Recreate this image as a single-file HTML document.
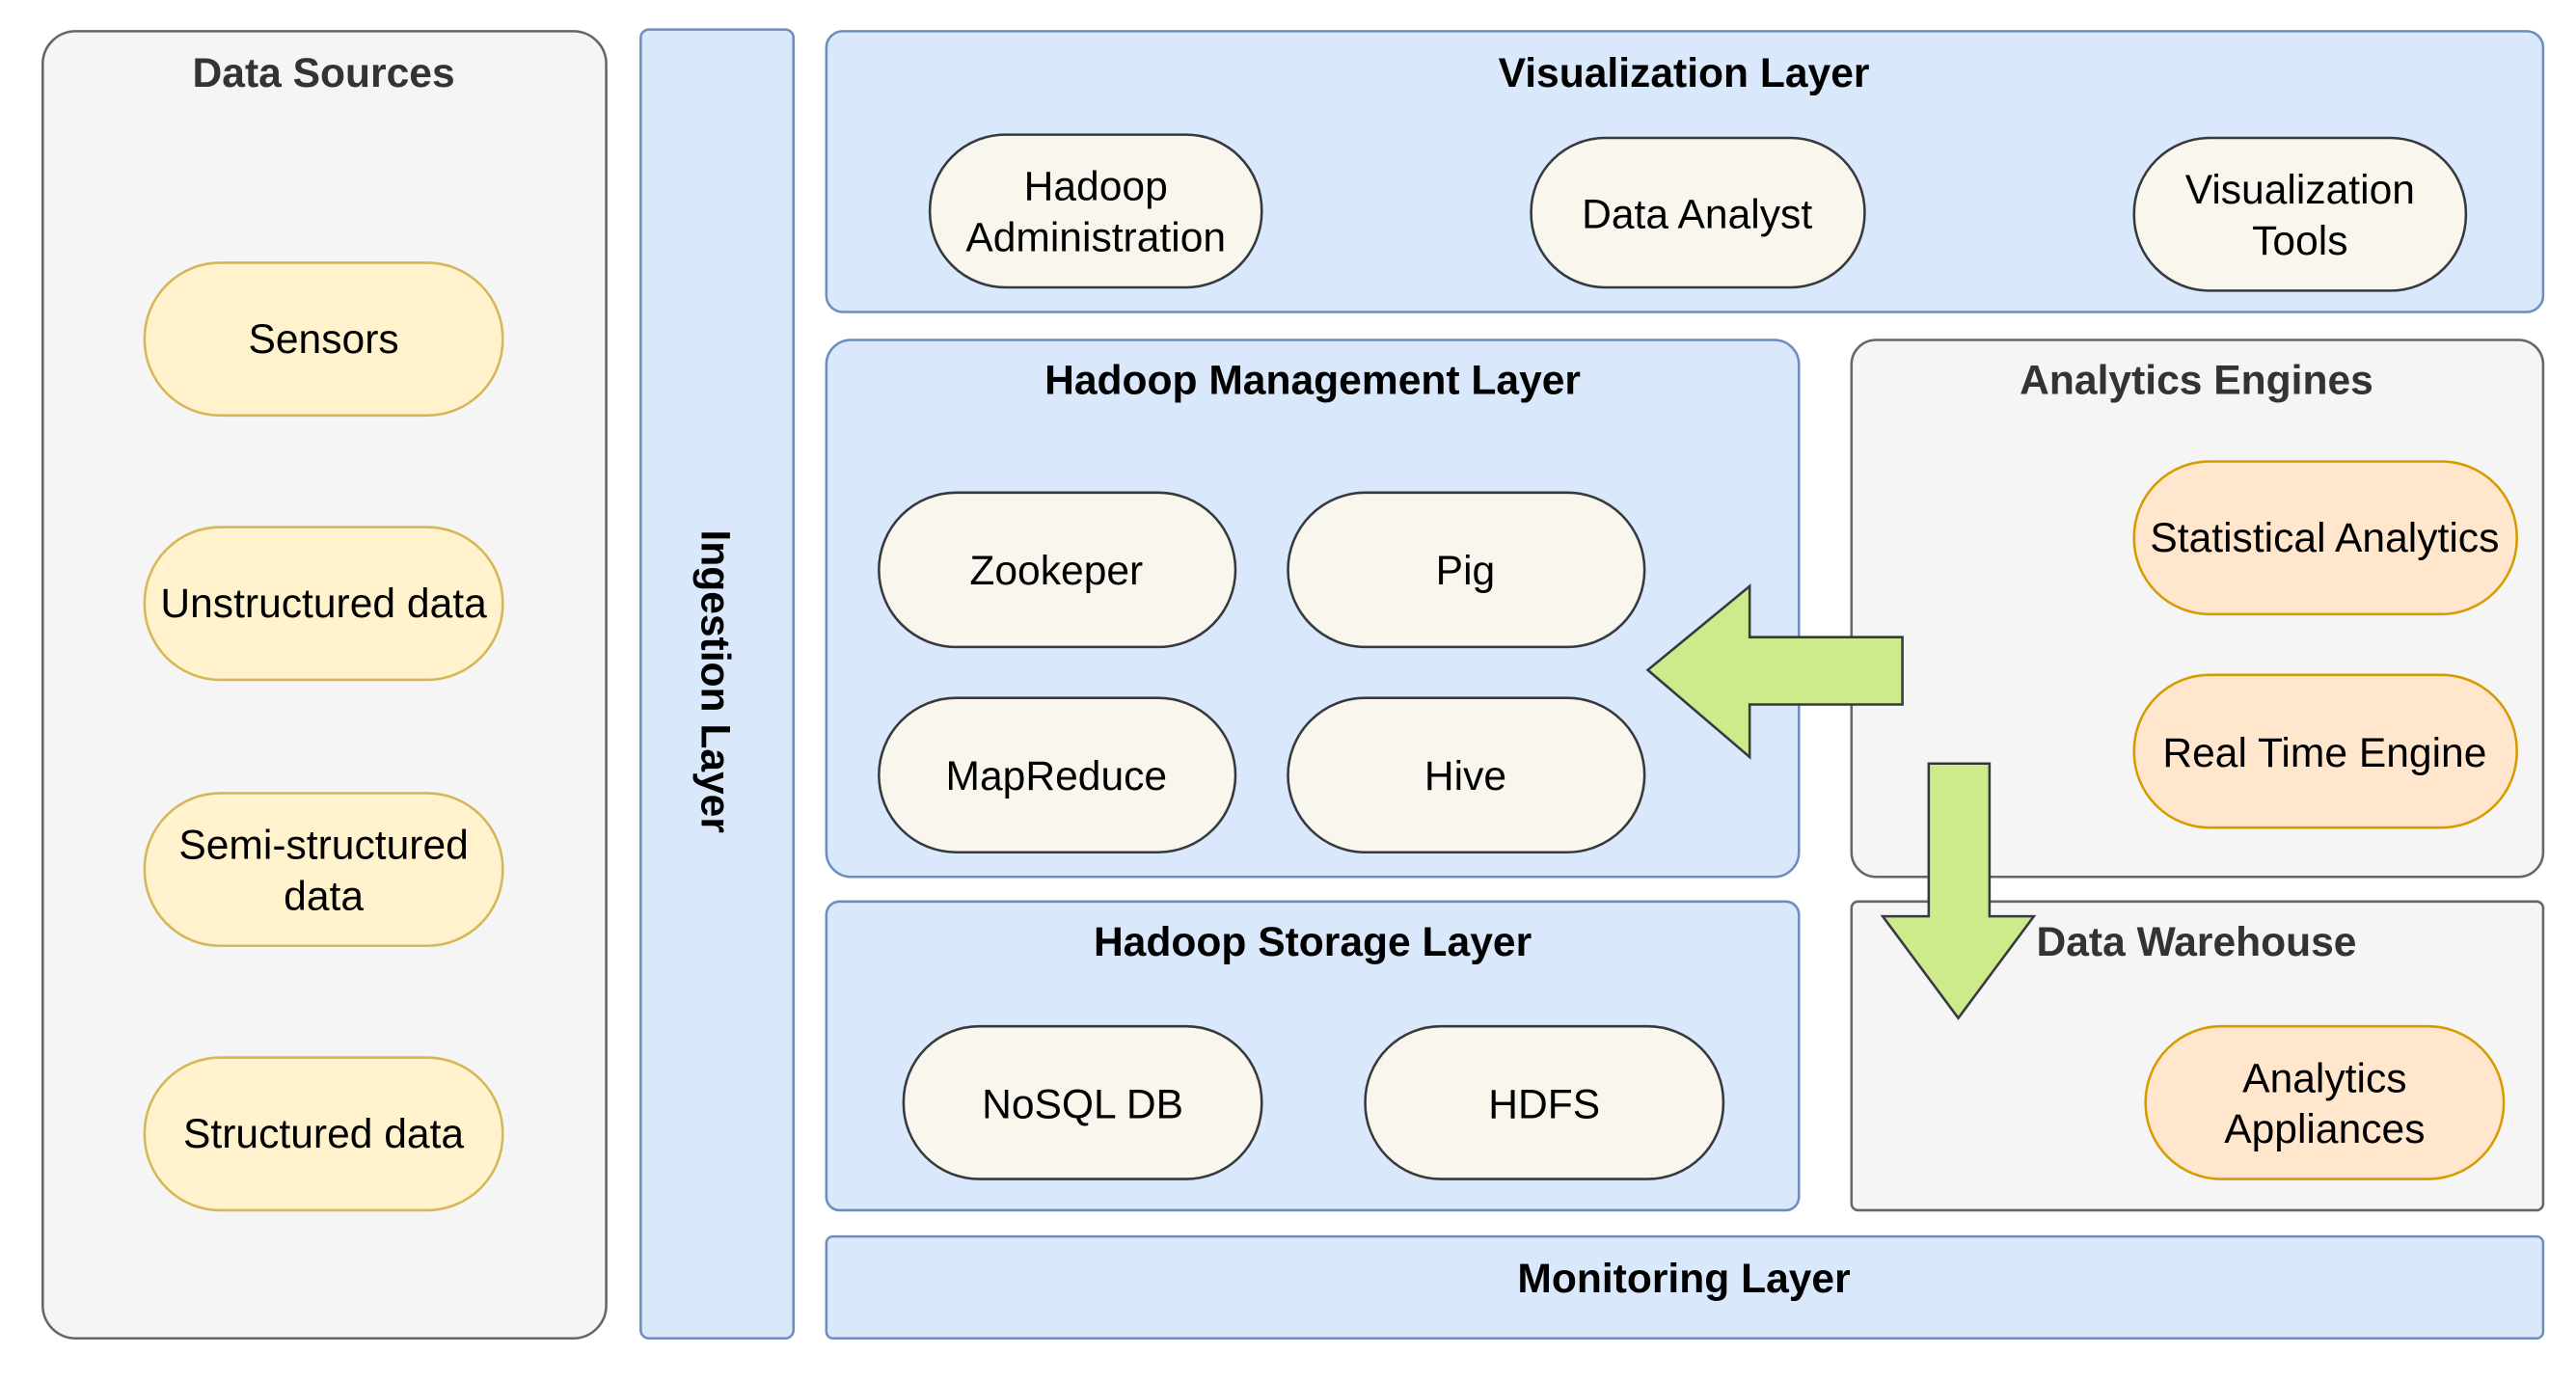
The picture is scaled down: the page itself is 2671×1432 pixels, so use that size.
<!DOCTYPE html>
<html><head><meta charset="utf-8"><style>
html,body{margin:0;padding:0;background:#fff;}
svg{display:block;}
text{font-family:"Liberation Sans",sans-serif;}
.t{font-size:25px;font-weight:bold;text-anchor:middle;}
.p{font-size:25px;text-anchor:middle;fill:#000;}
.blue{fill:#dae8fc;stroke:#6c8ebf;stroke-width:1.5;}
.gray{fill:#f5f5f5;stroke:#666;stroke-width:1.5;}
.y{fill:#fff2cc;stroke:#d6b656;stroke-width:1.5;}
.w{fill:#f9f7ed;stroke:#36393d;stroke-width:1.5;}
.o{fill:#ffe6cc;stroke:#d79b00;stroke-width:1.5;}
</style></head><body>
<svg width="2671" height="1432" viewBox="0 0 1568 841" preserveAspectRatio="none" xmlns="http://www.w3.org/2000/svg">
<rect x="26" y="19" width="343" height="796" rx="20" class="gray"/>
<text x="197" y="53" class="t" fill="#333">Data Sources</text>
<rect x="88" y="160" width="218" height="93" rx="46" class="y"/><text x="197" y="215" class="p">Sensors</text>
<rect x="88" y="321" width="218" height="93" rx="46" class="y"/><text x="197" y="376" class="p">Unstructured data</text>
<rect x="88" y="483" width="218" height="93" rx="46" class="y"/><text x="197" y="523" class="p">Semi-structured</text><text x="197" y="554" class="p">data</text>
<rect x="88" y="644" width="218" height="93" rx="46" class="y"/><text x="197" y="699" class="p">Structured data</text>

<rect x="390" y="18" width="93" height="797" rx="5" class="blue"/>
<text class="t" transform="translate(427,415) rotate(90)" fill="#000">Ingestion Layer</text>

<rect x="503" y="19" width="1045" height="171" rx="10" class="blue"/>
<text x="1025" y="53" class="t" fill="#000">Visualization Layer</text>
<rect x="566" y="82" width="202" height="93" rx="46" class="w"/><text x="667" y="122" class="p">Hadoop</text><text x="667" y="153" class="p">Administration</text>
<rect x="932" y="84" width="203" height="91" rx="45" class="w"/><text x="1033" y="139" class="p">Data Analyst</text>
<rect x="1299" y="84" width="202" height="93" rx="46" class="w"/><text x="1400" y="124" class="p">Visualization</text><text x="1400" y="155" class="p">Tools</text>

<rect x="503" y="207" width="592" height="327" rx="15" class="blue"/>
<text x="799" y="240" class="t" fill="#000">Hadoop Management Layer</text>
<rect x="535" y="300" width="217" height="94" rx="47" class="w"/><text x="643" y="356" class="p">Zookeper</text>
<rect x="784" y="300" width="217" height="94" rx="47" class="w"/><text x="892" y="356" class="p">Pig</text>
<rect x="535" y="425" width="217" height="94" rx="47" class="w"/><text x="643" y="481" class="p">MapReduce</text>
<rect x="784" y="425" width="217" height="94" rx="47" class="w"/><text x="892" y="481" class="p">Hive</text>

<rect x="1127" y="207" width="421" height="327" rx="15" class="gray"/>
<text x="1337" y="240" class="t" fill="#333">Analytics Engines</text>
<rect x="1299" y="281" width="233" height="93" rx="46" class="o"/><text x="1415" y="336" class="p">Statistical Analytics</text>
<rect x="1299" y="411" width="233" height="93" rx="46" class="o"/><text x="1415" y="467" class="p">Real Time Engine</text>

<rect x="503" y="549" width="592" height="188" rx="8" class="blue"/>
<text x="799" y="582" class="t" fill="#000">Hadoop Storage Layer</text>
<rect x="550" y="625" width="218" height="93" rx="46" class="w"/><text x="659" y="681" class="p">NoSQL DB</text>
<rect x="831" y="625" width="218" height="93" rx="46" class="w"/><text x="940" y="681" class="p">HDFS</text>

<rect x="1127" y="549" width="421" height="188" rx="4" class="gray"/>
<text x="1337" y="582" class="t" fill="#333">Data Warehouse</text>
<rect x="1306" y="625" width="218" height="93" rx="46" class="o"/><text x="1415" y="665" class="p">Analytics</text><text x="1415" y="696" class="p">Appliances</text>

<rect x="503" y="753" width="1045" height="62" rx="4" class="blue"/>
<text x="1025" y="787" class="t" fill="#000">Monitoring Layer</text>

<polygon points="1003,408 1065,357 1065,388 1158,388 1158,429 1065,429 1065,461" fill="#cdeb8b" stroke="#36393d" stroke-width="1.5"/>
<polygon points="1174,465 1211,465 1211,558 1238,558 1192,620 1146,558 1174,558" fill="#cdeb8b" stroke="#36393d" stroke-width="1.5"/>
</svg>
</body></html>
